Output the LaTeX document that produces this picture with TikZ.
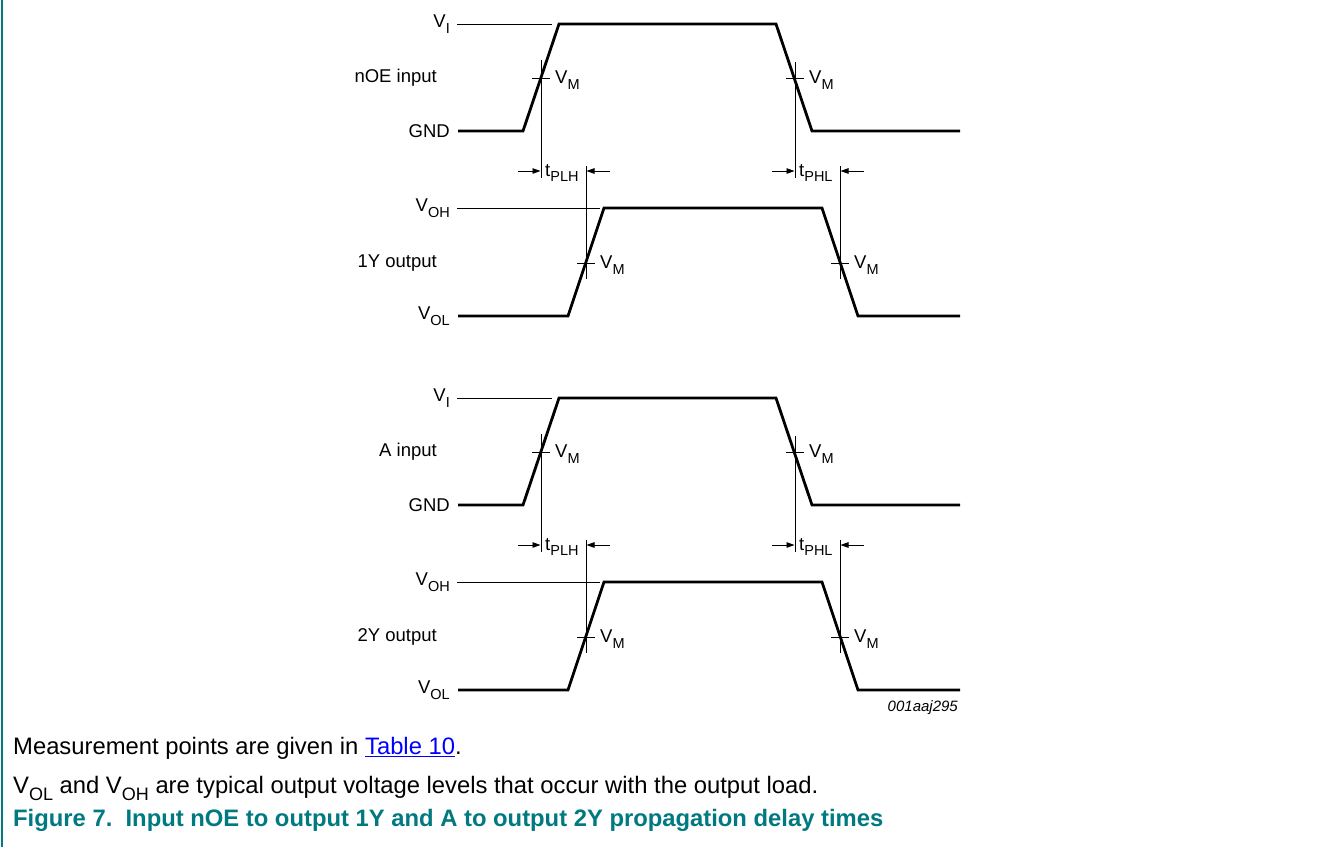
\documentclass[tikz,border=0pt]{standalone}
\usepackage{fontspec}
\setmainfont{Liberation Sans}
\usetikzlibrary{arrows.meta}
\definecolor{figteal}{RGB}{0,122,128}
\definecolor{linkblue}{RGB}{0,0,255}
\newcommand\lsub[1]{\raisebox{-0.3em}{\fontsize{14.5}{14.5}\selectfont #1}}
\newcommand\bsub[1]{\raisebox{-0.3em}{\fontsize{18}{18}\selectfont #1}}
% #1 y offset, #2 input label, #3 output label, #4 input low label, #5 prefix
\newcommand\wavepair[5]{%
  \node[lbl, anchor=east] (#5ih) at (450,24+#1) {V\lsub{I}};
  \node[lbl, anchor=east] (#5in) at (437,78+#1) {#2};
  \node[lbl, anchor=east] (#5il) at (450,131+#1) {#4};
  \node[lbl, anchor=east] (#5oh) at (450,208+#1) {V\lsub{OH}};
  \node[lbl, anchor=east] (#5on) at (437,263+#1) {#3};
  \node[lbl, anchor=east] (#5ol) at (450,316+#1) {V\lsub{OL}};
  \coordinate (#5a0) at (458,131+#1);
  \coordinate (#5a1) at (523,131+#1);
  \coordinate (#5a2) at (559,24+#1);
  \coordinate (#5a3) at (776,24+#1);
  \coordinate (#5a4) at (812,131+#1);
  \coordinate (#5a5) at (960,131+#1);
  \coordinate (#5b0) at (458,316+#1);
  \coordinate (#5b1) at (568,316+#1);
  \coordinate (#5b2) at (604,208+#1);
  \coordinate (#5b3) at (822,208+#1);
  \coordinate (#5b4) at (858,316+#1);
  \coordinate (#5b5) at (960,316+#1);
  \coordinate (#5ir) at (552,24+#1);
  \coordinate (#5or) at (600,208+#1);
  \draw[thinl] ([xshift=7pt]#5ih.east) -- (#5ir);
  \draw[thinl] ([xshift=7pt]#5oh.east) -- (#5or);
  \draw[wave] (#5a0) -- (#5a1) -- (#5a2) -- (#5a3) -- (#5a4) -- (#5a5);
  \draw[wave] (#5b0) -- (#5b1) -- (#5b2) -- (#5b3) -- (#5b4) -- (#5b5);
  \coordinate (#5r1t) at (541,60+#1);  \coordinate (#5r1b) at (541,178+#1);
  \draw[thinl] (#5r1t) -- (#5r1b);
  \draw[thinl] (532,78+#1) -- (550,78+#1);
  \node[lbl, anchor=west] (#5vm1) at (555,80+#1) {V\lsub{M}};
  \coordinate (#5f1t) at (795,62+#1);  \coordinate (#5f1b) at (795,178+#1);
  \draw[thinl] (#5f1t) -- (#5f1b);
  \draw[thinl] (786,78+#1) -- (804,78+#1);
  \node[lbl, anchor=west] (#5vm2) at (809,80+#1) {V\lsub{M}};
  \coordinate (#5r2t) at (586,166+#1);  \coordinate (#5r2b) at (586,279+#1);
  \draw[thinl] (#5r2t) -- (#5r2b);
  \draw[thinl] (577,263+#1) -- (595,263+#1);
  \node[lbl, anchor=west] (#5vm3) at (600,265+#1) {V\lsub{M}};
  \coordinate (#5f2t) at (840,166+#1);  \coordinate (#5f2b) at (840,279+#1);
  \draw[thinl] (#5f2t) -- (#5f2b);
  \draw[thinl] (831,263+#1) -- (849,263+#1);
  \node[lbl, anchor=west] (#5vm4) at (854,265+#1) {V\lsub{M}};
  \coordinate (#5p1) at (518,171+#1); \coordinate (#5p2) at (540.5,171+#1);
  \coordinate (#5p3) at (610,171+#1); \coordinate (#5p4) at (586.5,171+#1);
  \draw[dimarr] (#5p1) -- (#5p2);
  \draw[dimarr] (#5p3) -- (#5p4);
  \node[lbl, anchor=west] (#5tplh) at (545,173+#1) {t\lsub{PLH}};
  \coordinate (#5q1) at (772,171+#1); \coordinate (#5q2) at (794.5,171+#1);
  \coordinate (#5q3) at (864,171+#1); \coordinate (#5q4) at (840.5,171+#1);
  \draw[dimarr] (#5q1) -- (#5q2);
  \draw[dimarr] (#5q3) -- (#5q4);
  \node[lbl, anchor=west] (#5tphl) at (799,173+#1) {t\lsub{PHL}};
}
\begin{document}
\begin{tikzpicture}[x=1pt,y=-1pt,
  lbl/.style={font=\fontsize{18.5}{20}\selectfont, inner sep=0pt},
  body/.style={font=\fontsize{23.8}{26}\selectfont, inner sep=0pt, anchor=base west},
  wave/.style={line width=2.8pt, line join=miter, line cap=butt},
  thinl/.style={line width=0.9pt},
  dimarr/.style={line width=0.9pt, -{Triangle[length=8pt,width=5.5pt]}}]
\useasboundingbox (0,0) rectangle (1323,847);
\fill[white] (0,0) rectangle (1323,847);
\draw[figteal, line width=2pt] (2,0) -- (2,847);
\wavepair{0}{nOE input}{1Y output}{GND}{u}
\wavepair{374}{A input}{2Y output}{GND}{d}
\node[font=\fontsize{15}{17}\selectfont\itshape, inner sep=0pt, anchor=east] (code) at (958,708) {001aaj295};
\node[body] (t1) at (13,754.5) {Measurement points are given in \textcolor{linkblue}{\underline{Table 10}}.};
\node[body] (t2) at (13,793) {V\bsub{OL} and V\bsub{OH} are typical output voltage levels that occur with the output load.};
\node[body, font=\fontsize{23.8}{26}\selectfont\bfseries, text=figteal] (t3) at (13,826.5) {Figure 7.\ \ Input nOE to output 1Y and A to output 2Y propagation delay times};
\end{tikzpicture}
\end{document}
